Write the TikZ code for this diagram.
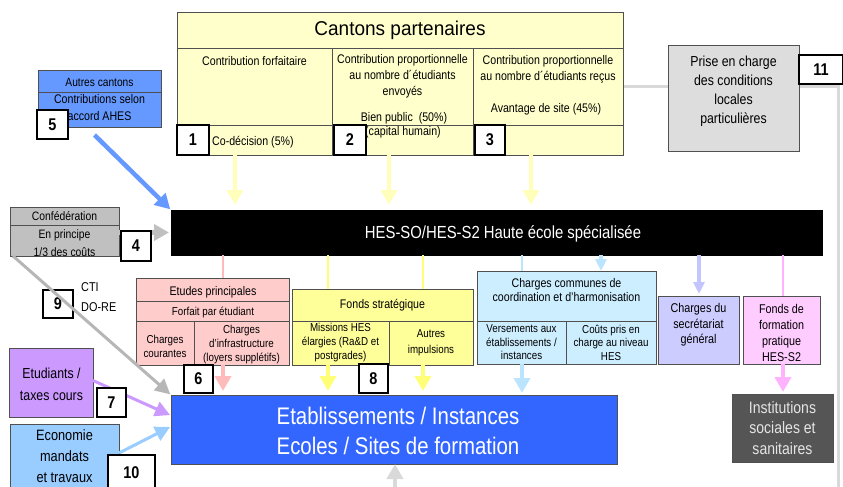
\documentclass[tikz,border=0pt]{standalone}
\usepackage{fontspec}
\setmainfont{Liberation Sans}[FakeStretch=0.85]
\newfontfamily\titlefont{Liberation Sans}[FakeStretch=0.95]
\usetikzlibrary{arrows.meta,calc}
\newcommand\myfs[2]{\fontsize{#1}{#2}\selectfont}
\definecolor{cantfill}{HTML}{FFFFCC}
\definecolor{cantarrow}{HTML}{FFFFBB}
\definecolor{fondsfill}{HTML}{FFFF99}
\definecolor{fondsarrow}{HTML}{FFFF77}
\definecolor{etfill}{HTML}{FFCCCC}
\definecolor{etarrow}{HTML}{FFBBBB}
\definecolor{commfill}{HTML}{CCEEFF}
\definecolor{commarrow}{HTML}{BBE4FF}
\definecolor{secrfill}{HTML}{CCCCFF}
\definecolor{secrarrow}{HTML}{C4C4FF}
\definecolor{ffpfill}{HTML}{FFCCFF}
\definecolor{ffparrow}{HTML}{FFB3FF}
\definecolor{etabfill}{HTML}{3366FF}
\definecolor{instfill}{HTML}{555555}
\definecolor{autresfill}{HTML}{6699FF}
\definecolor{conffill}{HTML}{C0C0C0}
\definecolor{etudfill}{HTML}{CC99FF}
\definecolor{econfill}{HTML}{99CCFF}
\definecolor{prisefill}{HTML}{DDDDDD}
\definecolor{linegray}{HTML}{D9D9D9}
\definecolor{edge}{HTML}{505050}
\begin{document}
\begin{tikzpicture}[x=1pt,y=-1pt,
  box/.style={draw=edge, line width=0.8pt, anchor=north west, inner sep=0pt, outer sep=0pt},
  numbox/.style={draw=black, line width=1.2pt, fill=white, anchor=north west, inner sep=0pt, outer sep=0pt, font=\myfs{17}{17}\bfseries},
  lbl/.style={inner sep=0pt, align=center},
  cell/.style={draw=edge, line width=0.8pt},
  bigarrow/.style={line width=4.5pt, -{Triangle[width=16pt,length=15pt]}},
  midarrow/.style={line width=3.5pt, -{Triangle[width=15pt,length=15pt]}},
  smallarrow/.style={line width=3.5pt, -{Triangle[width=11pt,length=12pt]}},
  feed/.style={line width=2.6pt},
]
\useasboundingbox (0,0) rectangle (843,487);

% long gray line (item 11)
\coordinate (g0) at (623,86);
\coordinate (g1) at (838,86);
\coordinate (g2) at (838,492);
\draw[line width=3pt, draw=linegray] (g0) -- (g1) -- (g2);

% column x positions
\coordinate (ka) at (235,0);
\coordinate (kb) at (389,0);
\coordinate (kc) at (531,0);
\coordinate (pe) at (223,0);
\coordinate (ya) at (328,0);
\coordinate (yb) at (423,0);
\coordinate (ba) at (522,0);
\coordinate (bb) at (601,0);
\coordinate (va) at (699,0);
\coordinate (ra) at (783,0);
\coordinate (bot) at (395,492);

% ---------------- Cantons partenaires
\node[box, fill=cantfill, minimum width=446pt, minimum height=143pt] (cant) at (177,12) {};
\draw[cell] (177,48) -- (623,48);
\draw[cell] (177,125) -- (623,125);
\draw[cell] (332,48) -- (332,155);
\draw[cell] (473,48) -- (473,155);
\node[lbl, font=\titlefont\myfs{20}{24}] (ctitle) at (400,30) {Cantons partenaires};
\node[lbl, font=\myfs{12.5}{16}] (c1t) at (254.5,61) {Contribution forfaitaire};
\node[lbl, font=\myfs{12.5}{16}] (c2t) at (402.5,76.5) {Contribution proportionnelle\\au nombre d´étudiants\\envoyés};
\node[lbl, font=\myfs{12.5}{16}] (c2b) at (404,118) {Bien public\ \ (50\%)};
\node[lbl, font=\myfs{12.5}{16}] (c2c) at (403,132) {(capital humain)};
\node[lbl, font=\myfs{12.5}{16}] (c3t) at (548,69) {Contribution proportionnelle\\au nombre d´étudiants reçus};
\node[lbl, font=\myfs{12.5}{16}] (c3b) at (546,109) {Avantage de site (45\%)};
\node[lbl, anchor=west, font=\myfs{12.5}{16}] (c1b) at (212,142) {Co-décision (5\%)};
\node[numbox, minimum width=32pt, minimum height=30pt] (n1) at (177,125) {1};
\node[numbox, minimum width=32pt, minimum height=30pt] (n2) at (334,125) {2};
\node[numbox, minimum width=30pt, minimum height=30pt] (n3) at (475,125) {3};

% ---------------- Prise en charge / 11
\node[box, fill=prisefill, minimum width=131pt, minimum height=106pt] (prise) at (668,45) {};
\node[lbl, font=\myfs{14.5}{19}] (priset) at (733.5,91) {Prise en charge\\des conditions\\locales\\particulières};
\node[numbox, minimum width=44pt, minimum height=29pt] (n11) at (799,55) {11};

% ---------------- HES bar
\node[box, draw=black, fill=black, minimum width=651pt, minimum height=45pt] (hes) at (171,210) {};
\node[lbl, text=white, font=\myfs{17.5}{20}] (hest) at (503,233.5) {HES-SO/HES-S2 Haute école spécialisée};

% ---------------- Autres cantons
\node[box, fill=autresfill, minimum width=123pt, minimum height=57pt] (autres) at (38,70) {};
\draw[cell] (38,92) -- (161,92);
\node[lbl, font=\myfs{12}{16}] (autt) at (99.5,82) {Autres cantons};
\node[lbl, font=\myfs{12.5}{17}] (autb) at (99.5,107.5) {Contributions selon\\accord AHES};
\node[numbox, minimum width=31pt, minimum height=29pt] (n5) at (37,110) {5};

% ---------------- Confederation
\node[box, fill=conffill, minimum width=109pt, minimum height=49pt] (conf) at (10,207) {};
\draw[cell] (10,225) -- (119,225);
\node[lbl, font=\myfs{12.2}{18}] (conft) at (64.5,216) {Confédération};
\node[lbl, font=\myfs{12.2}{18}] (confb) at (64.5,243) {En principe\\1/3 des coûts};

% ---------------- Etudes principales
\node[box, fill=etfill, minimum width=153pt, minimum height=87pt] (etudes) at (136,278) {};
\draw[cell] (136,301) -- (289,301);
\draw[cell] (136,321) -- (289,321);
\draw[cell] (194,321) -- (194,365);
\node[lbl, font=\myfs{12.5}{15}] (ett) at (213,292) {Etudes principales};
\node[lbl, font=\myfs{11.5}{14}] (etf) at (213,312) {Forfait par étudiant};
\node[lbl, font=\myfs{11.5}{14}] (etc) at (165,346) {Charges\\courantes};
\node[lbl, font=\myfs{11.5}{14}] (eti) at (241.5,344.5) {Charges\\d'infrastructure\\(loyers supplétifs)};

% ---------------- Fonds strategique
\node[box, fill=fondsfill, minimum width=181pt, minimum height=76pt] (fonds) at (292,289) {};
\draw[cell] (292,321) -- (473,321);
\draw[cell] (389,321) -- (389,365);
\node[lbl, font=\myfs{12.5}{15}] (fst) at (382.5,305) {Fonds stratégique};
\node[lbl, font=\myfs{11.5}{14}] (fsm) at (340.5,342.5) {Missions HES\\élargies (Ra\&D et\\postgrades)};
\node[lbl, font=\myfs{11.5}{16}] (fsa) at (431,342.5) {Autres\\impulsions};

% ---------------- Charges communes
\node[box, fill=commfill, minimum width=179pt, minimum height=93pt] (comm) at (477,271) {};
\draw[cell] (477,321) -- (656,321);
\draw[cell] (566,321) -- (566,364);
\node[lbl, font=\myfs{12.5}{14.5}] (cmt) at (566.5,290) {Charges communes de\\coordination et d'harmonisation};
\node[lbl, font=\myfs{11.5}{13.5}] (cmv) at (521.5,342.5) {Versements aux\\établissements /\\instances};
\node[lbl, font=\myfs{11.5}{13.5}] (cmc) at (611,342.5) {Coûts pris en\\charge au niveau\\HES};

% ---------------- Secretariat / Fonds de formation
\node[box, fill=secrfill, minimum width=81pt, minimum height=68pt] (secr) at (658,296) {};
\node[lbl, font=\myfs{12.7}{15.5}] (secrt) at (698.5,325) {Charges du\\secrétariat\\général};
\node[box, fill=ffpfill, minimum width=77pt, minimum height=68pt] (ffp) at (743,296) {};
\node[lbl, font=\myfs{12.7}{16}] (ffpt) at (781.5,333) {Fonds de\\formation\\pratique\\HES-S2};

% ---------------- Etablissements / Institutions
\node[box, fill=etabfill, minimum width=446pt, minimum height=69pt] (etab) at (171,395) {};
\node[lbl, text=white, font=\myfs{24}{30}] (etabt) at (398,431) {Etablissements / Instances\\Ecoles / Sites de formation};
\node[box, fill=instfill, minimum width=101pt, minimum height=68pt] (inst) at (732,394) {};
\node[lbl, text=black!10, font=\myfs{16.5}{20.5}] (instt) at (782.5,428) {Institutions\\sociales et\\sanitaires};

% ---------------- left side
\node[lbl, anchor=west, align=left, font=\myfs{12.8}{20}] (cti) at (81,297) {CTI\\DO-RE};
\node[numbox, minimum width=30pt, minimum height=28pt] (n9) at (43,290) {9};
\node[box, fill=etudfill, minimum width=84pt, minimum height=69pt] (etud) at (9,348) {};
\node[lbl, font=\myfs{14.5}{22}] (etudt) at (51.5,384) {Etudiants /\\taxes cours};
\node[box, fill=econfill, minimum width=109pt, minimum height=70pt] (econ) at (10,424) {};
\node[lbl, font=\myfs{15}{21}] (econt) at (64.5,456) {Economie\\mandats\\et travaux};

% ---------------- arrows
\draw[bigarrow, draw=cantarrow, shorten >=5pt] (cant.south -| ka) -- (hes.north -| ka);
\draw[bigarrow, draw=cantarrow, shorten >=5pt] (cant.south -| kb) -- (hes.north -| kb);
\draw[bigarrow, draw=cantarrow, shorten >=5pt] (cant.south -| kc) -- (hes.north -| kc);

\draw[bigarrow, draw=autresfill, shorten >=1pt] ($(autres.south)+(-5,8)$) -- (hes.north west);
\draw[bigarrow, draw=conffill, shorten >=2pt] (conf.east |- hes.west) -- (hes.west);
\draw[midarrow, draw=conffill!95!black, line width=3pt, shorten >=1pt] ([xshift=3pt]conf.south west) -- (etab.north west);
\draw[midarrow, draw=etudfill, line width=3pt, shorten >=1pt] ([yshift=2pt]etud.east) -- ([yshift=14pt]etab.west);
\draw[midarrow, draw=econfill, line width=3pt, shorten >=1pt] ([yshift=6pt]econ.east) -- ([yshift=3pt]etab.west);

\draw[feed, draw=etarrow] (hes.south -| pe) -- (etudes.north -| pe);
\draw[bigarrow, draw=etarrow, shorten >=4pt] (etudes.south -| pe) -- (etab.north -| pe);
\draw[feed, draw=fondsarrow] (hes.south -| ya) -- (fonds.north -| ya);
\draw[feed, draw=fondsarrow] (hes.south -| yb) -- (fonds.north -| yb);
\draw[bigarrow, draw=fondsarrow, shorten >=4pt] (fonds.south -| ya) -- (etab.north -| ya);
\draw[bigarrow, draw=fondsarrow, shorten >=4pt] (fonds.south -| yb) -- (etab.north -| yb);
\draw[feed, draw=commarrow] (hes.south -| ba) -- (comm.north -| ba);
\draw[smallarrow, draw=commarrow] (hes.south -| bb) -- (comm.north -| bb);
\draw[bigarrow, draw=commarrow, shorten >=2pt] (comm.south -| ba) -- (etab.north -| ba);
\draw[smallarrow, draw=secrarrow, shorten >=2pt] (hes.south -| va) -- (secr.north -| va);
\draw[feed, draw=ffparrow] (hes.south -| ra) -- (ffp.north -| ra);
\draw[bigarrow, draw=ffparrow, shorten >=2pt] (ffp.south -| ra) -- (inst.north -| ra);
\draw[bigarrow, draw=black!15] (bot) -- (bot |- etab.south);

% number boxes on top
\node[numbox, minimum width=30pt, minimum height=30pt] (n4) at (121,231) {4};
\node[numbox, minimum width=29pt, minimum height=28pt] (n6) at (184,365) {6};
\node[numbox, minimum width=29pt, minimum height=29pt] (n8) at (359,364) {8};
\node[numbox, minimum width=29pt, minimum height=29pt] (n7) at (97,388) {7};
\node[numbox, minimum width=47pt, minimum height=35pt] (n10) at (108,455) {10};
\end{tikzpicture}
\end{document}
